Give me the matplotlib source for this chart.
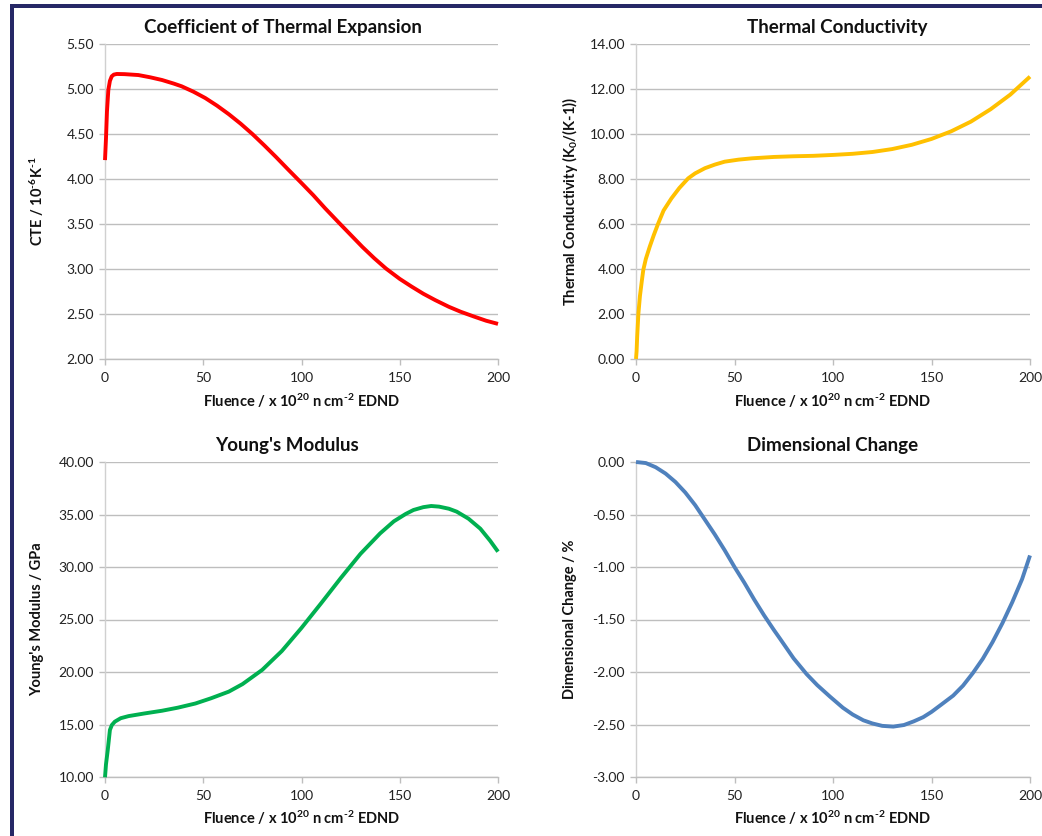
import numpy as np
import matplotlib
matplotlib.use("Agg")
import matplotlib.pyplot as plt
from matplotlib.ticker import FormatStrFormatter, MultipleLocator
from matplotlib.patches import Rectangle

plt.rcParams['font.family'] = ['Lato', 'DejaVu Sans']
plt.rcParams['mathtext.fontset'] = 'custom'
plt.rcParams['mathtext.rm'] = 'Lato:bold'
plt.rcParams['mathtext.bf'] = 'Lato:bold'
plt.rcParams['mathtext.it'] = 'Lato:bold'
plt.rcParams['mathtext.default'] = 'bf'
plt.rcParams['axes.unicode_minus'] = False

# ---- data ----
cte_x = [0, 0.5, 1, 1.7, 2.5, 3.4, 4.5, 6, 10, 17, 23, 29, 35, 39, 45, 51, 57, 63, 69, 75,
         81, 87, 93, 100, 106, 112, 119, 125, 131, 137, 143, 150, 156, 162, 168, 175, 181,
         188, 194, 200]
cte_y = [4.21, 4.45, 4.75, 4.99, 5.09, 5.14, 5.16, 5.167, 5.165, 5.155, 5.13, 5.10, 5.06,
         5.03, 4.97, 4.90, 4.815, 4.72, 4.615, 4.50, 4.375, 4.245, 4.11, 3.955, 3.82, 3.675,
         3.515, 3.38, 3.245, 3.12, 3.005, 2.89, 2.805, 2.725, 2.655, 2.58, 2.525, 2.47,
         2.425, 2.39]

tc_x = [0, 0.3, 0.6, 1.2, 2, 3, 3.7, 5, 7, 9, 11.3, 14, 18, 22, 26.5, 30, 35, 40, 45, 52,
        59, 70, 80, 90, 100, 110, 120, 130, 140, 150, 160, 170, 180, 190, 200]
tc_y = [0.0, 0.35, 1.0, 2.0, 2.8, 3.5, 3.96, 4.45, 5.0, 5.5, 6.03, 6.6, 7.14, 7.6, 8.03,
        8.25, 8.48, 8.64, 8.77, 8.86, 8.92, 8.98, 9.01, 9.03, 9.07, 9.12, 9.2, 9.33, 9.52,
        9.78, 10.12, 10.55, 11.1, 11.75, 12.55]

ym_x = [0, 0.5, 1.4, 2.5, 3.5, 5, 8, 12, 20, 29, 37, 46, 54, 63, 70, 80, 90, 100, 110, 120,
        130, 140, 147, 153, 157, 162, 166, 170, 175, 179, 185, 191, 196, 200]
ym_y = [9.97, 11.2, 12.57, 14.48, 14.95, 15.27, 15.6, 15.8, 16.05, 16.31, 16.6, 17.0, 17.5,
        18.13, 18.85, 20.2, 22.0, 24.2, 26.55, 28.95, 31.25, 33.2, 34.35, 35.05, 35.43,
        35.7, 35.81, 35.75, 35.55, 35.27, 34.6, 33.65, 32.5, 31.46]

dc_x = [0, 5, 10, 15, 20, 25, 30, 35, 40, 45, 50, 55, 60, 65, 70, 73, 80, 86.6, 92, 98.5,
        105, 110, 115.4, 120, 125, 130.6, 136, 141, 145.8, 150, 155, 161, 166, 171, 176,
        181, 186, 191, 196, 200]
dc_y = [0.0, -0.01, -0.05, -0.11, -0.19, -0.29, -0.41, -0.55, -0.69, -0.84, -1.00, -1.15,
        -1.31, -1.46, -1.60, -1.68, -1.87, -2.02, -2.125, -2.235, -2.34, -2.405, -2.46,
        -2.49, -2.513, -2.52, -2.505, -2.47, -2.43, -2.38, -2.31, -2.225, -2.13, -2.01,
        -1.875, -1.715, -1.535, -1.335, -1.115, -0.89]

W, H = 1042, 836
fig = plt.figure(figsize=(W / 100, H / 100), dpi=100)

# navy frame (top + left)
fig.patches.append(Rectangle((10 / W, 0), 4 / W, 1 - 4 / H, transform=fig.transFigure,
                             facecolor='#262866', edgecolor='none'))
fig.patches.append(Rectangle((10 / W, 1 - 8 / H), 1, 4 / H, transform=fig.transFigure,
                             facecolor='#262866', edgecolor='none'))

xlabel = r"Fluence / x 10$^{20}$ n cm$^{\text{-}2}$ EDND"

panels = [
    dict(box=(105, 498, 44, 359), x=cte_x, y=cte_y, color='#FF0000', ylim=(2.0, 5.5), step=0.5,
         title="Coefficient of Thermal Expansion", tx=283,
         ylabel=r"CTE / 10$^{\text{-}6}$K$^{\text{-}1}$", ylx=37, xly=401, ty=27),
    dict(box=(636, 1030, 44, 359), x=tc_x, y=tc_y, color='#FFC000', ylim=(0, 14), step=2,
         title="Thermal Conductivity", tx=837, ylabel=r"Thermal Conductivity (K$_0$/(K-1))",
         ylx=570, xly=401, ty=27),
    dict(box=(105, 498, 462, 777), x=ym_x, y=ym_y, color='#00B050', ylim=(10, 40), step=5,
         title="Young's Modulus", tx=287, ylabel="Young's Modulus / GPa",
         ylx=37, xly=818, ty=445),
    dict(box=(636, 1030, 462, 777), x=dc_x, y=dc_y, color='#4F81BD', ylim=(-3, 0), step=0.5,
         title="Dimensional Change", tx=833, ylabel="Dimensional Change / %",
         ylx=570, xly=818, ty=445),
]

grid_c = '#BEBEBE'
for p in panels:
    l, r, t, b = p['box']
    ax = fig.add_axes([l / W, 1 - b / H, (r - l) / W, (b - t) / H])
    ax.plot(p['x'], p['y'], color=p['color'], lw=2.8, solid_capstyle='butt',
            solid_joinstyle='round', clip_on=False, zorder=3)
    ax.set_xlim(0, 200)
    ax.set_ylim(*p['ylim'])
    ax.xaxis.set_major_locator(MultipleLocator(50))
    ax.yaxis.set_major_locator(MultipleLocator(p['step']))
    ax.yaxis.set_major_formatter(FormatStrFormatter('%.2f'))
    ax.grid(axis='y', color=grid_c, lw=1.0)
    ax.set_axisbelow(True)
    for s in ['top', 'right']:
        ax.spines[s].set_visible(False)
    ax.spines['left'].set_color('#D0D0D0')
    ax.spines['bottom'].set_color(grid_c)
    ax.spines['left'].set_linewidth(1.0)
    ax.spines['bottom'].set_linewidth(1.0)
    ax.tick_params(axis='both', colors=grid_c, labelcolor='#222222', labelsize=10,
                   length=4, width=1.0, direction='out')
    ax.tick_params(axis='x', pad=5)
    ax.tick_params(axis='y', pad=4)
    fig.text(p['tx'] / W, 1 - p['ty'] / H, p['title'], ha='center', va='center',
             fontsize=13.5, fontweight='bold', color='#111111')
    fig.text(((l + r) / 2) / W, 1 - p['xly'] / H, xlabel, ha='center', va='center',
             fontsize=10.5, fontweight='bold', color='#111111')
    fig.text(p['ylx'] / W, 1 - ((t + b) / 2) / H, p['ylabel'], ha='center', va='center',
             rotation=90, fontsize=10.5, fontweight='bold', color='#111111')

fig.savefig('out.png', dpi=100)
